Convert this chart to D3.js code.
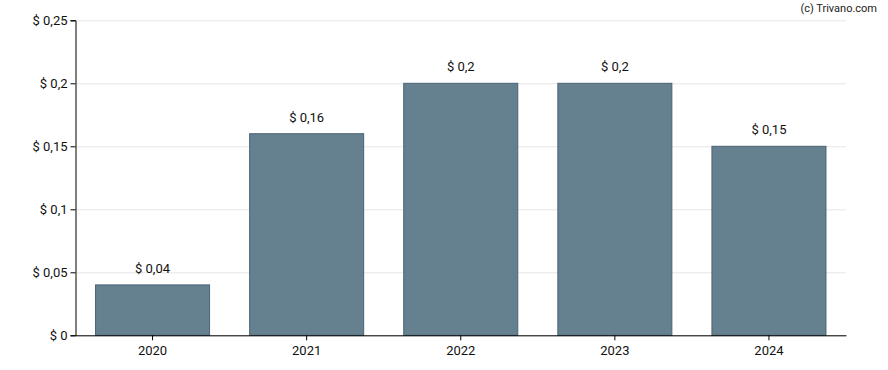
<!DOCTYPE html>
<html lang="en">
  <head>
    <meta charset="UTF-8" />
    <title>Dividend per year</title>
    <style>
      body {
        margin: 0;
        font-family: Roboto, Arial, sans-serif;
        background: #fff;
      }
    </style>
    <script src="https://d3js.org/d3.v7.min.js"></script>
  </head>
  <body>
  <script>
    const years = ["2020", "2021", "2022", "2023", "2024"]
    const dividends = [0.04, 0.16, 0.2, 0.2, 0.15]
    const yTicks = [0, 0.05, 0.1, 0.15, 0.2, 0.25]

    const width = 888, height = 370
    const margin = { top: 20.3, right: 42, bottom: 34.7, left: 75.5 }
    const innerW = width - margin.left - margin.right
    const innerH = height - margin.top - margin.bottom

    const fmt = v => "$ " + String(+v.toFixed(2)).replace(".", ",")

    const svg = d3.select("body").append("svg")
        .attr("width", width)
        .attr("height", height)

    svg.append("text")
        .attr("x", 877)
        .attr("y", 12)
        .attr("text-anchor", "end")
        .attr("font-size", "11px")
        .attr("fill", "#222")
        .text("(c) Trivano.com")

    const g = svg.append("g")
        .attr("transform", `translate(${margin.left},${margin.top})`)

    const x = d3.scaleBand()
        .domain(years)
        .range([0, innerW])
        .paddingInner(0.26)
        .paddingOuter(0.13)

    const y = d3.scaleLinear()
        .domain([0, 0.25])
        .range([innerH, 0])

    // grid
    g.selectAll(".grid")
      .data(yTicks)
      .enter().append("line")
        .attr("x1", 0)
        .attr("x2", innerW)
        .attr("y1", d => Math.round(y(d)) + 0.5)
        .attr("y2", d => Math.round(y(d)) + 0.5)
        .attr("stroke", "#e6e6e6")

    // bars are slightly see-through, the grid shows inside them
    g.selectAll(".bar")
      .data(dividends)
      .enter().append("rect")
        .attr("x", (d, i) => x(years[i]))
        .attr("y", d => y(d))
        .attr("width", x.bandwidth())
        .attr("height", d => innerH - y(d))
        .attr("fill", "#547283")
        .attr("fill-opacity", 0.9)
        .attr("stroke", "#4b6376")
        .attr("stroke-width", 1)

    g.selectAll(".label")
      .data(dividends)
      .enter().append("text")
        .attr("x", (d, i) => x(years[i]) + x.bandwidth() / 2)
        .attr("y", d => y(d) - 12)
        .attr("text-anchor", "middle")
        .attr("font-size", "13px")
        .attr("fill", "#111")
        .text(d => fmt(d))

    const yAxis = g.append("g")
        .call(d3.axisLeft(y).tickValues(yTicks).tickSize(5).tickFormat(fmt))
    const xAxis = g.append("g")
        .attr("transform", `translate(0,${innerH})`)
        .call(d3.axisBottom(x).tickSize(5).tickSizeOuter(0))

    yAxis.select(".domain").attr("stroke", "#000")
    xAxis.select(".domain").attr("stroke", "#000")
    svg.selectAll(".tick line").attr("stroke", "#000")
    svg.selectAll(".tick text")
        .attr("font-family", "Roboto, Arial, sans-serif")
        .attr("font-size", "13px")
        .attr("fill", "#111")
    yAxis.selectAll(".tick text").attr("x", -8)
    xAxis.selectAll(".tick text").attr("y", 10)
  </script>
  </body>
</html>
